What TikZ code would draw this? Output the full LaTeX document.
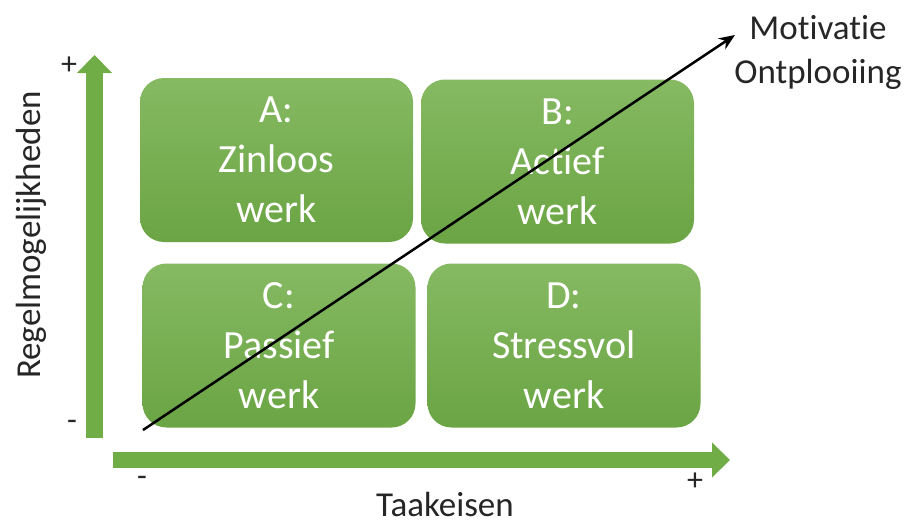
\documentclass[tikz,border=0pt]{standalone}
\usepackage{fontspec}
\setmainfont{Carlito}[Ligatures={NoCommon,NoRequired,NoContextual}, RawFeature={-liga;-clig;-dlig;-calt}]
\usepackage{tikz}
\usetikzlibrary{arrows.meta}
\definecolor{officegreen}{RGB}{112,173,71}
\tikzset{
  green box/.style={
    rounded corners=24pt,
    top color={officegreen!85!white},
    bottom color={officegreen!95!black},
    draw=none,
    text=white,
    align=center,
    minimum width=273pt,
    minimum height=164pt,
    font=\fontsize{40}{50}\selectfont,
  },
  axis arrow/.style={
    draw=officegreen,
    line width=17pt,
    -{Triangle[width=34pt,length=18pt]},
  },
  label text/.style={
    text=black!85,
    font=\fontsize{35}{44}\selectfont,
  },
  sign/.style={
    text=black!85,
    font=\fontsize{32}{32}\selectfont,
  }
}

\begin{document}
\begin{tikzpicture}[x=1pt, y=-1pt]
    \useasboundingbox (0,0) rectangle (913,525);

    \node [green box] (a) at (276.5,160) {A:\\Zinloos\\werk};
    \node [green box] (b) at (557.5,161.5) {B:\\Actief\\werk};
    \node [green box] (c) at (279,345.5) {C:\\Passief\\werk};
    \node [green box] (d) at (564,345.5) {D:\\Stressvol\\werk};

    \coordinate (ybot) at (94.5,438);
    \coordinate (ytop) at (94.5,55);
    \coordinate (xleft) at (113,460);
    \coordinate (xright) at (730,460);
    \draw [axis arrow] (ybot) -- (ytop);
    \draw [axis arrow, line width=16pt] (xleft) -- (xright);

    \node [sign] (yplus) at (69,66) {+};
    \node [sign] (yminus) at (72,425) {-};
    \node [sign] (xminus) at (142,481) {-};
    \node [sign] (xplus) at (695,482) {+};

    \node [label text, rotate=90] (ylabel) at (31,235) {Regelmogelijkheden};
    \node [label text] (xlabel) at (445,504) {Taakeisen};
    \node [label text, align=center] (goal) at (818,52) {Motivatie\\Ontplooiing};

    \coordinate (start) at (143,430);
    \coordinate (end) at (735,35);
    \draw [line width=2.5pt, -{Stealth[length=16pt,width=13pt]}] (start) -- (end);
\end{tikzpicture}
\end{document}
